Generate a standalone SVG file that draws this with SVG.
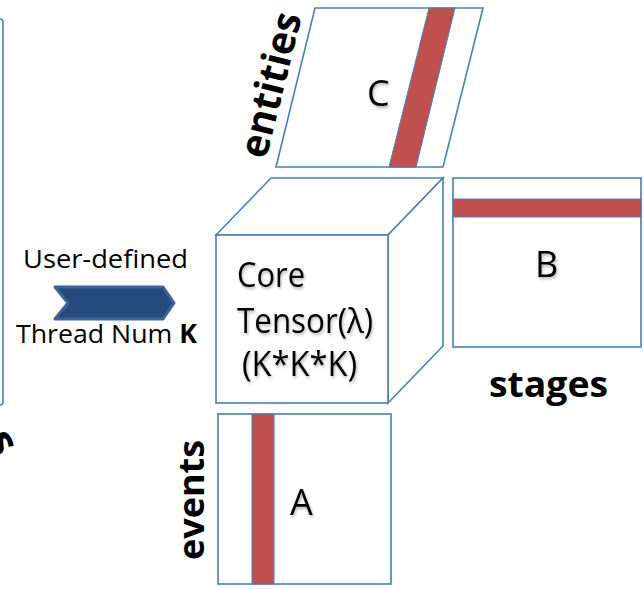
<svg xmlns="http://www.w3.org/2000/svg" width="644" height="589" viewBox="0 0 644 589">
  <defs>
    <filter id="txtShadow" x="-20%" y="-20%" width="140%" height="140%">
      <feDropShadow dx="1" dy="2" stdDeviation="1.5" flood-color="#000" flood-opacity="0.3"/>
    </filter>
  </defs>
  <style>
    .box { fill: #ffffff; stroke: #4A7EBB; stroke-width: 1.6; stroke-linejoin: miter; }
    .band { fill: #C0504D; stroke: #4A7EBB; stroke-width: 1; }
    .lbl { font-family: "Open Sans", "Liberation Sans", sans-serif; fill: #000; }
    .axis { font-family: "Open Sans", "Liberation Sans", sans-serif; font-weight: bold; fill: #000; }
    .letter { font-family: "Open Sans", "Liberation Sans", sans-serif; font-size: 36px; fill: #000; filter: url(#txtShadow); }
  </style>

  <!-- matrix cut off at the left edge -->
  <g id="left-matrix">
    <rect class="box" x="-300" y="19" width="303" height="386" rx="3"/>
    <text class="axis" font-size="44" transform="translate(-16,440) rotate(60)">s</text>
  </g>

  <!-- thread number input -->
  <g id="thread-input">
    <text class="lbl" x="23" y="268" font-size="26" textLength="165" lengthAdjust="spacingAndGlyphs">User-defined</text>
    <path d="M55,287 L163,287 L174,303 L163,319 L55,319 L68,303 Z" fill="#244A80" stroke="#3D6293" stroke-width="3" stroke-linejoin="round"/>
    <text class="lbl" x="16" y="343" font-size="26" textLength="181" lengthAdjust="spacingAndGlyphs">Thread Num <tspan font-weight="bold">K</tspan></text>
  </g>

  <!-- factor matrix C (entities), drawn in perspective -->
  <g id="matrix-C">
    <path class="box" d="M315,8 L483,8 L443,167 L276,167 Z"/>
    <path class="band" d="M429,8 L455,8 L416,167 L389,167 Z"/>
    <text class="letter" x="367" y="106">C</text>
    <text class="axis" font-size="40" transform="translate(266,160) rotate(-76)" textLength="148" lengthAdjust="spacingAndGlyphs">entities</text>
  </g>

  <!-- core tensor cube -->
  <g id="core-tensor">
    <path class="box" d="M216,235 L271,178 L443,178 L388,235 Z"/>
    <path class="box" d="M388,235 L443,178 L443,346 L388,403 Z"/>
    <rect class="box" x="216" y="235" width="172" height="168"/>
    <g class="letter" style="font-size:35px">
      <text x="237" y="287" textLength="68" lengthAdjust="spacingAndGlyphs">Core</text>
      <text x="237" y="333" textLength="136" lengthAdjust="spacingAndGlyphs">Tensor(λ)</text>
      <text x="242" y="376" textLength="115" lengthAdjust="spacingAndGlyphs">(K*K*K)</text>
    </g>
  </g>

  <!-- factor matrix B (stages) -->
  <g id="matrix-B">
    <rect class="box" x="453" y="178" width="188" height="169"/>
    <rect class="band" x="453" y="199" width="188" height="18"/>
    <text class="letter" x="535" y="277">B</text>
    <text class="axis" x="489" y="397" font-size="36" textLength="119" lengthAdjust="spacingAndGlyphs">stages</text>
  </g>

  <!-- factor matrix A (events) -->
  <g id="matrix-A">
    <rect class="box" x="218" y="414" width="173" height="170"/>
    <rect class="band" x="252" y="414" width="22" height="170"/>
    <text class="letter" x="290" y="515">A</text>
    <text class="axis" font-size="36" transform="translate(204,560) rotate(-90)" textLength="120" lengthAdjust="spacingAndGlyphs">events</text>
  </g>

  <g id="connectors"/>
</svg>
